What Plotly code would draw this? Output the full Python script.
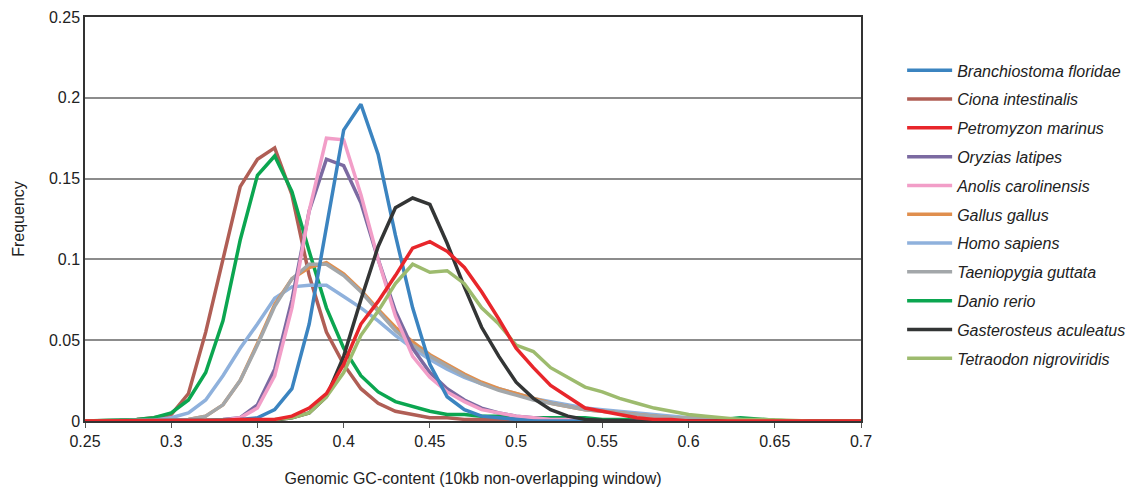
import plotly.graph_objects as go

gc = [round(0.25 + 0.01 * i, 2) for i in range(46)]

def pad(start, vals):
    # start: index of first value (x = 0.25 + 0.01*start); rest zeros
    out = [0.0] * 46
    for i, v in enumerate(vals):
        out[start + i] = v
    return out

branchiostoma = pad(8, [0.0005, 0.001, 0.002, 0.007, 0.02, 0.06, 0.12, 0.18, 0.196, 0.165, 0.115, 0.07,
                        0.035, 0.015, 0.007, 0.003, 0.002, 0.001])
ciona = pad(2, [0.0005, 0.001, 0.002, 0.004, 0.017, 0.055, 0.1, 0.145, 0.162, 0.169, 0.14, 0.09, 0.055,
                0.035, 0.02, 0.011, 0.006, 0.004, 0.002, 0.002, 0.001, 0.001, 0.001])
petromyzon = pad(8, [0.0005, 0.001, 0.001, 0.001, 0.003, 0.008, 0.017, 0.035, 0.06, 0.074, 0.09, 0.107,
                     0.111, 0.105, 0.095, 0.08, 0.063, 0.045, 0.033, 0.022, 0.015, 0.008, 0.006, 0.004,
                     0.002, 0.001, 0.001])
oryzias = pad(7, [0.0005, 0.001, 0.002, 0.01, 0.032, 0.075, 0.13, 0.162, 0.158, 0.135, 0.1, 0.068, 0.045,
                  0.03, 0.02, 0.013, 0.008, 0.005, 0.003, 0.002, 0.001, 0.001])
anolis = pad(8, [0.0005, 0.002, 0.008, 0.028, 0.07, 0.13, 0.175, 0.174, 0.14, 0.1, 0.065, 0.04, 0.027,
                 0.018, 0.012, 0.007, 0.005, 0.003, 0.002, 0.001, 0.001])
gallus = pad(5, [0.0005, 0.001, 0.003, 0.01, 0.025, 0.048, 0.072, 0.088, 0.095, 0.098, 0.091, 0.081,
                 0.069, 0.058, 0.049, 0.041, 0.035, 0.029, 0.024, 0.02, 0.017, 0.014, 0.011, 0.009,
                 0.007, 0.006, 0.005, 0.004, 0.003, 0.002, 0.002, 0.001, 0.001])
homo = pad(4, [0.0005, 0.002, 0.005, 0.013, 0.028, 0.045, 0.06, 0.076, 0.083, 0.084, 0.084, 0.077, 0.07,
               0.062, 0.053, 0.045, 0.038, 0.032, 0.027, 0.023, 0.02, 0.017, 0.014, 0.012, 0.01, 0.008,
               0.007, 0.006, 0.005, 0.004, 0.003, 0.002, 0.002, 0.001, 0.001])
taeniopygia = pad(5, [0.0005, 0.001, 0.003, 0.01, 0.025, 0.047, 0.071, 0.088, 0.097, 0.097, 0.09, 0.08,
                      0.068, 0.056, 0.047, 0.04, 0.034, 0.028, 0.023, 0.019, 0.016, 0.013, 0.011, 0.009,
                      0.007, 0.006, 0.005, 0.004, 0.003, 0.002, 0.002, 0.001, 0.001])
danio = pad(1, [0.0002, 0.0005, 0.001, 0.002, 0.005, 0.013, 0.03, 0.062, 0.112, 0.152, 0.164, 0.142,
                0.105, 0.07, 0.045, 0.028, 0.018, 0.012, 0.009, 0.006, 0.004, 0.004, 0.003, 0.003,
                0.002, 0.002, 0.002, 0.002, 0.002, 0.001, 0.001, 0.001, 0.001, 0.001, 0.001, 0.001,
                0.001, 0.002, 0.001, 0.0005])
gasterosteus = pad(11, [0.0005, 0.002, 0.005, 0.015, 0.04, 0.075, 0.108, 0.132, 0.138, 0.134, 0.11,
                        0.083, 0.058, 0.04, 0.024, 0.014, 0.007, 0.003, 0.001, 0.0005])
tetraodon = pad(10, [0.0005, 0.001, 0.002, 0.005, 0.015, 0.03, 0.053, 0.068, 0.085, 0.097, 0.092, 0.093,
                     0.085, 0.07, 0.06, 0.047, 0.043, 0.033, 0.027, 0.021, 0.018, 0.014, 0.011, 0.008,
                     0.006, 0.004, 0.003, 0.002, 0.001, 0.001, 0.0005])

series = [
    ("Branchiostoma floridae", branchiostoma, "#3b84c0"),
    ("Ciona intestinalis", ciona, "#b05e55"),
    ("Petromyzon marinus", petromyzon, "#e8262b"),
    ("Oryzias latipes", oryzias, "#7b6aa1"),
    ("Anolis carolinensis", anolis, "#f29ec8"),
    ("Gallus gallus", gallus, "#e08f4e"),
    ("Homo sapiens", homo, "#8fb1dc"),
    ("Taeniopygia guttata", taeniopygia, "#a3a7aa"),
    ("Danio rerio", danio, "#0ba650"),
    ("Gasterosteus aculeatus", gasterosteus, "#333535"),
    ("Tetraodon nigroviridis", tetraodon, "#9dbb6e"),
]

draw_order = [1, 8, 6, 5, 7, 3, 4, 0, 9, 10, 2]

fig = go.Figure()
for idx in draw_order:
    name, vals, col = series[idx]
    fig.add_trace(go.Scatter(
        x=gc, y=vals, mode="lines", name=name,
        line=dict(color=col, width=3.5),
        legendrank=idx + 1, legendgroup=name,
    ))

fig.update_layout(
    width=1133, height=487,
    margin=dict(l=85, r=272, t=17, b=66, autoexpand=False),
    paper_bgcolor="white", plot_bgcolor="white",
    font=dict(family="Liberation Sans, Arial, sans-serif", size=16, color="#222"),
    legend=dict(
        x=1.053, xanchor="left", xref="paper", y=0.91, yanchor="top",
        font=dict(size=16, style="italic", color="#222"),
        itemwidth=45, tracegroupgap=5, traceorder="grouped", bgcolor="rgba(0,0,0,0)",
    ),
    showlegend=True,
)
fig.update_xaxes(
    range=[0.25, 0.7], tickvals=[0.25, 0.3, 0.35, 0.4, 0.45, 0.5, 0.55, 0.6, 0.65, 0.7],
    ticktext=["0.25", "0.3", "0.35", "0.4", "0.45", "0.5", "0.55", "0.6", "0.65", "0.7"],
    showgrid=False, zeroline=False, showline=True, linecolor="#333", linewidth=1.5, mirror=True,
    ticks="outside", ticklen=5, tickcolor="#555",
    title=dict(text="Genomic GC-content (10kb non-overlapping window)", standoff=26,
               font=dict(size=16)),
)
fig.update_yaxes(
    range=[0, 0.25], tickvals=[0, 0.05, 0.1, 0.15, 0.2, 0.25],
    ticktext=["0", "0.05", "0.1", "0.15", "0.2", "0.25"],
    showgrid=True, gridcolor="#8c8c8c", gridwidth=2, zeroline=False,
    showline=True, linecolor="#333", linewidth=1.5, mirror=True,
    ticks="", title=dict(text="Frequency", standoff=20, font=dict(size=16)),
)

fig.write_html("out.html")
